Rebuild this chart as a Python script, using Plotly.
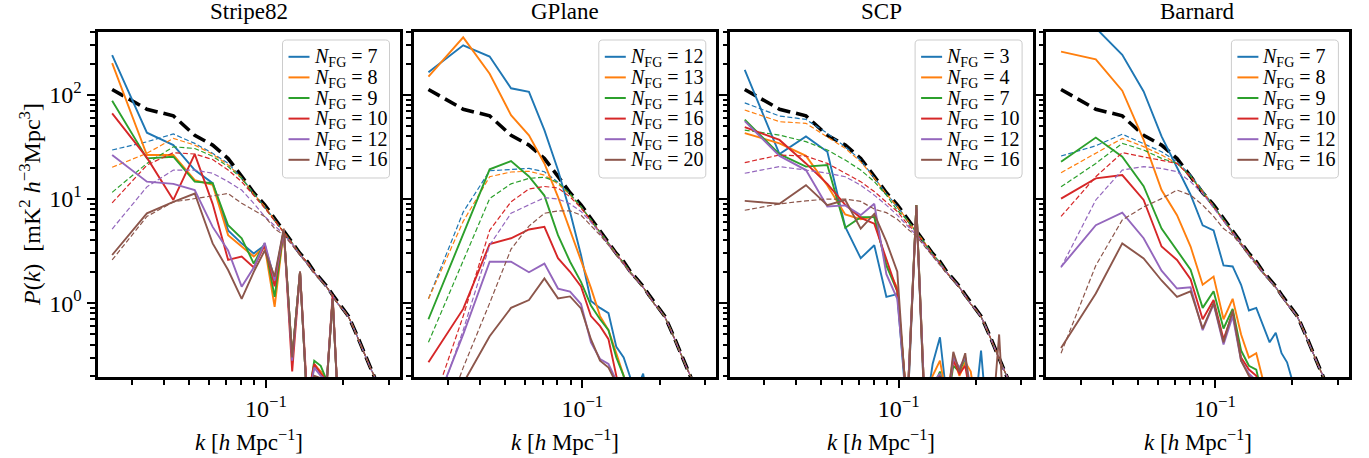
import math
import plotly.graph_objects as go

# ---------------- data ----------------
K = [0.0252, 0.0344, 0.0436, 0.0528, 0.0620, 0.0712, 0.0804, 0.0896, 0.0988, 0.1080,
     0.1172, 0.1264, 0.1356, 0.1448, 0.1540, 0.1632, 0.1724, 0.1816, 0.1908, 0.2000,
     0.2092, 0.2184, 0.2276, 0.2368, 0.2460, 0.2552, 0.2644, 0.2736, 0.2828, 0.2920]

# true (HI) signal, thick black dashed, identical in every panel
P_TRUE = [113, 73, 63, 41, 33, 24.5, 16.5, 11.5, 8.8, 6.5, 5.0, 3.9, 3.0, 2.5, 2.0,
          1.7, 1.45, 1.2, 1.0, 0.87, 0.75, 0.6, 0.47, 0.37, 0.3, 0.24, 0.2, 0.16, 0.13, 0.1]

# common high-k tail of the thin dashed curves (k index 15..29)
DASH_TAIL = [1.67, 1.42, 1.18, 0.98, 0.86, 0.74, 0.59, 0.46, 0.36, 0.295, 0.236, 0.196,
             0.157, 0.128, 0.098]

TITLES = ["Stripe82", "GPlane", "SCP", "Barnard"]

# ---- Stripe82
S82_N = [7, 8, 9, 10, 12, 16]
S82_SOLID = [
    [242, 43.4, 33, 19, 14.2, 5.0, 3.75, 3.0, 3.6, 1.7, 5.0, 0.3, 2.0, 0.1, 0.25, 0.22, 0.18, 1.1, 0.1],
    [202, 26.5, 26.5, 15.2, 13.7, 4.5, 3.5, 2.8, 3.5, 0.92, 5.0, 0.3, 2.0, 0.1, 0.26, 0.22, 0.18, 1.1, 0.1],
    [88, 24.6, 25.5, 14.7, 14.2, 5.6, 4.2, 2.4, 3.75, 1.15, 5.0, 0.3, 2.0, 0.1, 0.28, 0.25, 0.18, 1.1, 0.1],
    [66.6, 25, 9.8, 27, 9.0, 2.6, 2.8, 2.2, 3.6, 1.45, 5.0, 0.22, 2.0, 0.12, 0.26, 0.21, 0.18, 1.2, 0.1],
    [26.5, 14.7, 14.0, 12.2, 5.4, 3.2, 1.44, 2.2, 3.8, 1.65, 5.0, 0.28, 2.0, 0.1, 0.24, 0.2, 0.18, 1.1, 0.1],
    [2.9, 7.3, 9.4, 11.3, 3.75, 2.08, 1.1, 2.0, 3.2, 1.8, 5.2, 0.3, 2.0, 0.1, 0.2, 0.19, 0.17, 1.1, 0.1],
]
S82_DASH = [
    [29.6, 35.5, 42.2, 34.3, 27.5, 22.0, 16.0, 11.3, 8.5, 6.3, 4.85, 3.8, 2.95, 2.45, 1.97],
    [20.2, 27.5, 38.3, 33.0, 27.0, 21.3, 16.0, 11.2, 8.5, 6.3, 4.85, 3.8, 2.95, 2.45, 1.97],
    [11.6, 22.0, 31.8, 30.6, 25.8, 20.5, 15.8, 11.2, 8.4, 6.3, 4.8, 3.8, 2.95, 2.45, 1.97],
    [9.2, 21.2, 27.9, 27.1, 24.0, 19.0, 14.7, 10.8, 8.2, 6.2, 4.8, 3.75, 2.95, 2.45, 1.97],
    [5.15, 13.1, 19.0, 19.0, 17.7, 14.7, 12.2, 9.1, 6.8, 5.6, 4.6, 3.7, 2.9, 2.4, 1.95],
    [2.6, 6.8, 9.4, 10.1, 10.9, 11.3, 9.1, 7.8, 6.8, 5.2, 4.5, 3.6, 2.85, 2.35, 1.92],
]

# ---- GPlane
GP_N = [12, 13, 14, 16, 18, 20]
GP_SOLID = [
    [165, 300, 234, 116, 107, 46, 19, 7.5, 2.9, 1.05, 0.9, 0.8, 0.38, 0.3, 0.19, 0.15, 0.21, 0.1],
    [150, 358, 160, 64, 41, 22, 10.5, 5.0, 2.6, 1.4, 0.75, 0.55, 0.33, 0.2, 0.1],
    [0.70, 4.6, 19.3, 23.2, 16.5, 10.8, 4.5, 2.5, 1.6, 0.95, 0.7, 0.55, 0.3, 0.2, 0.1],
    [0.27, 0.88, 3.7, 4.2, 5.1, 5.4, 2.7, 2.0, 1.45, 0.75, 0.6, 0.45, 0.2, 0.1],
    [0.07, 0.5, 2.5, 2.5, 1.98, 2.4, 1.38, 1.29, 0.98, 0.42, 0.29, 0.26, 0.18, 0.1],
    [0.04, 0.17, 0.48, 0.9, 1.07, 1.73, 1.11, 1.16, 0.89, 0.45, 0.28, 0.24, 0.17, 0.1],
]
GP_DASH = [
    [1.1, 7.5, 18.7, 19.3, 19.7, 18.3, 14.5, 11.2, 8.5, 6.3, 4.85, 3.8, 2.95, 2.45, 1.97],
    [1.1, 6.1, 16.4, 18.2, 18.5, 17.0, 14.0, 11.0, 8.4, 6.3, 4.85, 3.8, 2.95, 2.45, 1.97],
    [0.42, 2.6, 10.1, 14.0, 15.8, 16.2, 14.5, 11.2, 8.4, 6.3, 4.8, 3.8, 2.95, 2.45, 1.97],
    [0.08, 0.75, 5.0, 9.4, 12.5, 13.2, 12.8, 10.5, 8.2, 6.2, 4.8, 3.75, 2.95, 2.45, 1.97],
    [0.06, 0.55, 3.6, 7.3, 8.8, 10.3, 10.0, 9.0, 7.6, 6.0, 4.7, 3.7, 2.9, 2.4, 1.95],
    [0.03, 0.24, 1.0, 3.3, 5.5, 7.3, 7.7, 7.7, 7.0, 5.6, 4.5, 3.6, 2.85, 2.35, 1.92],
]

# ---- SCP
SCP_N = [3, 4, 7, 10, 12, 16]
SCP_SOLID = [
    [174, 27, 40, 28.5, 5.4, 2.7, 3.6, 1.15, 1.22, 0.08, 8.75, 0.08, 0.26, 0.47, 0.12, 0.1, 0.1, 0.15, 0.1, 0.12, 0.35, 0.1, 0.08],
    [43, 34.3, 26, 13.5, 7.1, 6.4, 6.8, 2.3, 1.4, 0.1, 8.75, 0.1, 0.2, 0.28, 0.12, 0.3, 0.2, 0.27, 0.22, 0.1, 0.12, 0.1, 0.08],
    [58, 27, 20.5, 21.2, 5.3, 6.7, 6.7, 2.3, 1.3, 0.1, 8.75, 0.1, 0.15, 0.22, 0.1, 0.25, 0.22, 0.3, 0.12, 0.1, 0.1, 0.08],
    [49, 37, 22, 14, 8.8, 6.6, 5.8, 2.6, 1.3, 0.1, 8.0, 0.1, 0.18, 0.2, 0.1, 0.28, 0.21, 0.25, 0.12, 0.1, 0.08],
    [56, 26, 19, 8.5, 8.7, 7.0, 9.0, 1.9, 1.1, 0.1, 8.5, 0.1, 0.17, 0.21, 0.1, 0.3, 0.24, 0.3, 0.15, 0.1, 0.08],
    [9.6, 9.0, 13.6, 8.75, 9.8, 5.2, 7.2, 3.9, 2.0, 0.08, 8.75, 0.08, 0.15, 0.2, 0.1, 0.34, 0.22, 0.33, 0.12, 0.1, 0.15, 0.12, 0.1, 0.15, 0.5, 0.1],
]
SCP_DASH = [
    [84, 62.8, 58.3, 42.8, 31.9, 23.7, 16.0, 11.2, 8.5, 6.3, 4.85, 3.8, 2.95, 2.45, 1.97],
    [71.8, 55.4, 53.4, 39.8, 30.7, 22.8, 16.0, 11.2, 8.5, 6.3, 4.85, 3.8, 2.95, 2.45, 1.97],
    [46, 41.2, 35.6, 29.6, 23.7, 19.0, 14.7, 10.9, 7.8, 6.3, 4.8, 3.8, 2.95, 2.45, 1.97],
    [22.4, 26.5, 25.9, 22.0, 17.7, 14.7, 11.8, 9.4, 7.6, 5.8, 4.7, 3.7, 2.9, 2.42, 1.96],
    [17.7, 20.5, 19.0, 17.7, 16.4, 13.6, 10.9, 8.75, 7.0, 5.6, 4.5, 3.6, 2.85, 2.38, 1.95],
    [7.8, 9.0, 9.6, 10.0, 10.0, 9.5, 8.0, 7.4, 6.4, 5.2, 4.4, 3.5, 2.8, 2.35, 1.92],
]

# ---- Barnard
BN_N = [7, 8, 9, 10, 12, 16]
BN_SOLID = [
    [620, 440, 243, 108, 40, 20, 11, 5.6, 5.0, 2.3, 2.25, 1.5, 0.85, 0.9, 0.6, 0.42, 0.52, 0.33, 0.27, 0.18, 0.1],
    [261, 220, 110, 37, 12.2, 7.0, 3.5, 1.5, 1.8, 0.7, 1.1, 0.5, 0.3, 0.33, 0.18, 0.1],
    [22.8, 39, 25.5, 13.3, 5.2, 3.2, 2.1, 0.9, 1.3, 0.57, 0.88, 0.35, 0.25, 0.23, 0.12],
    [10.1, 15.8, 17, 9.8, 3.5, 2.6, 1.7, 0.7, 1.07, 0.45, 0.8, 0.3, 0.23, 0.2, 0.1],
    [2.23, 5.6, 7.4, 4.2, 2.05, 1.38, 1.42, 0.55, 0.98, 0.4, 0.75, 0.28, 0.21, 0.18, 0.1],
    [0.37, 1.24, 3.75, 2.69, 1.65, 1.15, 1.3, 0.57, 1.0, 0.42, 0.85, 0.28, 0.2, 0.17, 0.1],
]
BN_DASH = [
    [25.9, 32.5, 42.0, 34.0, 28.5, 22.8, 17.0, 12.0, 8.6, 6.3, 4.85, 3.8, 2.95, 2.45, 1.97],
    [17.9, 27.5, 38.3, 31.9, 26.5, 22.0, 16.5, 11.8, 8.5, 6.3, 4.85, 3.8, 2.95, 2.45, 1.97],
    [13.1, 22.0, 34.3, 29.6, 24.6, 22.0, 16.5, 11.8, 8.5, 6.3, 4.8, 3.8, 2.95, 2.45, 1.97],
    [6.8, 16.4, 27.9, 25.5, 23.4, 22.0, 16.3, 11.6, 8.4, 6.2, 4.8, 3.75, 2.95, 2.45, 1.97],
    [2.2, 9.8, 19.0, 20.5, 19.7, 18.3, 14.7, 11.3, 8.2, 6.2, 4.8, 3.7, 2.9, 2.4, 1.95],
    [0.33, 2.3, 6.3, 8.4, 10.1, 12.2, 10.9, 8.75, 6.8, 5.2, 4.5, 3.6, 2.85, 2.35, 1.92],
]

PANELS = [
    (S82_N, S82_SOLID, S82_DASH),
    (GP_N, GP_SOLID, GP_DASH),
    (SCP_N, SCP_SOLID, SCP_DASH),
    (BN_N, BN_SOLID, BN_DASH),
]

COLORS = ["#1f77b4", "#ff7f0e", "#2ca02c", "#d62728", "#9467bd", "#8c564b"]

# ---------------- layout geometry ----------------
W, H = 1369, 458
FONT = "Liberation Serif"
LEFTS = [97.5, 413.8, 730.1, 1046.4]
PW = 302.5
TOP, BOT = 32, 377
XR = [math.log10(0.0221), math.log10(0.332)]
YR = [math.log10(0.195), math.log10(403)]

# legend box geometry (pixels)
LEG_W, LEG_TOP, LEG_BOT, LEG_GAP = 107, 40, 178, 10.5
LEG_ROW0, LEG_DY = 56.8, 20.6


def px(x):
    return x / W


def py(y):
    return (H - y) / H


fig = go.Figure()

for p, (Ns, solids, dashes) in enumerate(PANELS):
    ax = "" if p == 0 else str(p + 1)
    fig.add_trace(go.Scatter(
        x=K, y=P_TRUE, mode="lines", showlegend=False, hoverinfo="skip",
        line=dict(color="black", width=3.6, dash="13px,6px"),
        xaxis="x" + ax, yaxis="y" + ax))
    for j, n in enumerate(Ns):
        s = solids[j]
        d = dashes[j] + DASH_TAIL
        fig.add_trace(go.Scatter(
            x=K[:len(s)], y=s, mode="lines", showlegend=False,
            name="N_FG = %d" % n,
            line=dict(color=COLORS[j], width=1.9),
            xaxis="x" + ax, yaxis="y" + ax))
        fig.add_trace(go.Scatter(
            x=K[:len(d)], y=d, mode="lines", showlegend=False, hoverinfo="skip",
            line=dict(color=COLORS[j], width=1.2, dash="5px,2.5px"),
            xaxis="x" + ax, yaxis="y" + ax))

x_minor = [0.03, 0.04, 0.05, 0.06, 0.07, 0.08, 0.09, 0.2, 0.3]
y_minor = [0.2, 0.3, 0.4, 0.5, 0.6, 0.7, 0.8, 0.9, 2, 3, 4, 5, 6, 7, 8, 9,
           20, 30, 40, 50, 60, 70, 80, 90, 200, 300, 400]

layout = dict(
    width=W, height=H, margin=dict(l=0, r=0, t=0, b=0),
    paper_bgcolor="white", plot_bgcolor="white", showlegend=False,
    font=dict(family=FONT, color="black"),
)
annotations = []
shapes = []
y0 = (H - BOT) / H
y1 = (H - TOP) / H
for p in range(4):
    ax = "" if p == 0 else str(p + 1)
    l = LEFTS[p]
    layout["xaxis" + ax] = dict(
        type="log", range=XR, domain=[l / W, (l + PW) / W], anchor="y" + ax,
        showline=True, linecolor="black", linewidth=3, mirror=True,
        ticks="outside", ticklen=8, tickwidth=2, tickcolor="black",
        tickvals=[0.1], ticktext=["10<sup>\u22121</sup>"],
        tickfont=dict(family=FONT, size=24, color="black"),
        minor=dict(tickvals=x_minor, ticks="outside", ticklen=4.5, tickwidth=1.5, tickcolor="black"),
        showgrid=False, zeroline=False)
    layout["yaxis" + ax] = dict(
        type="log", range=YR, domain=[y0, y1], anchor="x" + ax,
        showline=True, linecolor="black", linewidth=3, mirror=True,
        ticks="outside", ticklen=8, tickwidth=2, tickcolor="black",
        tickvals=[1, 10, 100],
        ticktext=["10<sup>0</sup>", "10<sup>1</sup>", "10<sup>2</sup>"],
        showticklabels=(p == 0),
        tickfont=dict(family=FONT, size=24, color="black"),
        minor=dict(tickvals=y_minor, ticks="outside", ticklen=4.5, tickwidth=1.5, tickcolor="black"),
        showgrid=False, zeroline=False)

    cx = (l + PW / 2) / W
    annotations.append(dict(text=TITLES[p], x=cx, y=py(12), xref="paper", yref="paper",
                            showarrow=False, xanchor="center", yanchor="middle",
                            font=dict(family=FONT, size=23, color="black")))
    annotations.append(dict(text="<i>k</i> [<i>h</i> Mpc<sup>\u22121</sup>]", x=cx, y=py(440),
                            xref="paper", yref="paper", showarrow=False,
                            xanchor="center", yanchor="middle",
                            font=dict(family=FONT, size=23, color="black")))

    # legend (box, line samples, labels)
    br = l + PW - LEG_GAP
    bl = br - LEG_W
    r = 4.0
    rx, ry = r / W, r / H
    X0, X1, Y0, Y1 = px(bl), px(br), py(LEG_BOT), py(LEG_TOP)
    path = ("M %f,%f L %f,%f Q %f,%f %f,%f L %f,%f Q %f,%f %f,%f L %f,%f Q %f,%f %f,%f "
            "L %f,%f Q %f,%f %f,%f Z") % (
        X0 + rx, Y1, X1 - rx, Y1, X1, Y1, X1, Y1 - ry, X1, Y0 + ry, X1, Y0, X1 - rx, Y0,
        X0 + rx, Y0, X0, Y0, X0, Y0 + ry, X0, Y1 - ry, X0, Y1, X0 + rx, Y1)
    shapes.append(dict(type="path", path=path, xref="paper", yref="paper",
                       fillcolor="rgba(255,255,255,0.85)", line=dict(color="#cccccc", width=1),
                       layer="above"))
    Ns = PANELS[p][0]
    for j, n in enumerate(Ns):
        yy = LEG_ROW0 + LEG_DY * j
        shapes.append(dict(type="line", xref="paper", yref="paper",
                           x0=px(bl + 6), x1=px(bl + 27), y0=py(yy), y1=py(yy),
                           line=dict(color=COLORS[j], width=2), layer="above"))
        annotations.append(dict(text="<i>N</i><sub>FG</sub> = %d" % n,
                                x=px(bl + 29), y=py(yy + 1), xref="paper", yref="paper",
                                showarrow=False, xanchor="left", yanchor="middle",
                                font=dict(family=FONT, size=20, color="black")))

annotations.append(dict(text="<i>P</i>(<i>k</i>)  [mK<sup>2</sup> <i>h</i><sup>\u22123</sup>Mpc<sup>3</sup>]",
                        x=px(30), y=py(205), xref="paper", yref="paper", textangle=-90,
                        showarrow=False, xanchor="center", yanchor="middle",
                        font=dict(family=FONT, size=24, color="black")))
layout["annotations"] = annotations
layout["shapes"] = shapes
fig.update_layout(**layout)
fig.write_html("out.html")
